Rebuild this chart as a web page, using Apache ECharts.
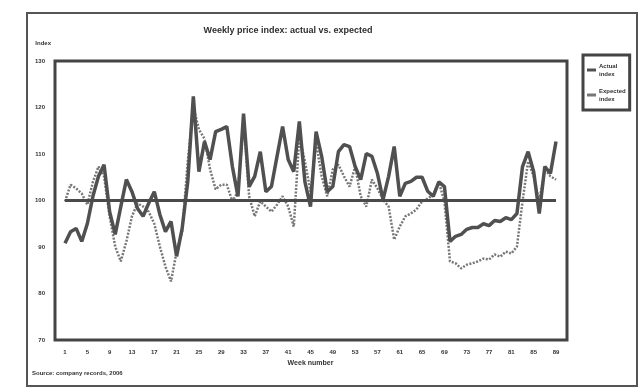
<!DOCTYPE html>
<html>
<head>
<meta charset="utf-8">
<script src="https://cdn.jsdelivr.net/npm/echarts@6/dist/echarts.min.js"></script>
<style>
  html, body { margin: 0; padding: 0; background: #fff; }
  #chart { width: 642px; height: 390px; }
</style>
</head>
<body>
<div id="chart"></div>
<script>
// weekly observations, every 4th week is labelled on the axis
const weeks = [
  1, 2, 3, 4, 5, 6, 7, 8, 9, 10, 11, 12, 13, 14, 15, 16, 17, 18, 19, 20,
  21, 22, 23, 24, 25, 26, 27, 28, 29, 30, 31, 32, 33, 34, 35, 36, 37, 38, 39, 40,
  41, 42, 43, 44, 45, 46, 47, 48, 49, 50, 51, 52, 53, 54, 55, 56, 57, 58, 59, 60,
  61, 62, 63, 64, 65, 66, 67, 68, 69, 70, 71, 72, 73, 74, 75, 76, 77, 78, 79, 80,
  81, 82, 83, 84, 85, 86, 87, 88, 89
]

// solid series
const actualIndex = [
  90.8, 93.3, 94.0, 91.2, 95.0, 100.9, 105.2, 107.7, 97.6, 92.7,
  98.7, 104.5, 101.9, 98.3, 96.6, 99.4, 101.9, 97.0, 93.3, 95.5,
  88.0, 94.0, 104.0, 122.4, 106.2, 112.7, 108.8, 114.8, 115.3, 115.9,
  107.3, 100.9, 118.7, 103.0, 105.2, 110.5, 101.9, 103.0, 109.5, 115.9,
  108.8, 106.2, 117.0, 104.0, 98.7, 114.8, 109.5, 101.9, 103.0, 110.5,
  112.0, 111.6, 107.3, 104.5, 110.1, 109.5, 105.8, 100.2, 105.2, 111.6,
  100.9, 103.7, 104.1, 105.0, 105.0, 102.0, 100.9, 104.0, 103.0, 91.2,
  92.3, 92.7, 93.8, 94.2, 94.2, 95.0, 94.6, 95.7, 95.5, 96.3,
  95.9, 97.2, 107.3, 110.5, 106.2, 97.2, 107.3, 105.8, 112.7
]

// dotted series
const expectedIndex = [
  99.8, 103.4, 102.6, 101.5, 99.1, 104.0, 107.3, 105.2, 96.6, 90.1,
  86.9, 91.2, 96.6, 99.4, 98.7, 97.6, 95.0, 90.1, 85.8, 82.6,
  89.0, 93.3, 108.4, 120.2, 115.3, 113.3, 106.7, 102.4, 103.4, 103.4,
  99.8, 101.9, 117.0, 100.9, 96.6, 99.8, 98.7, 97.6, 99.1, 100.9,
  98.7, 94.4, 113.8, 108.4, 101.9, 112.5, 105.2, 100.9, 106.7, 107.7,
  105.2, 103.0, 107.3, 100.9, 98.7, 104.5, 102.6, 100.2, 98.7, 91.6,
  94.4, 96.6, 97.2, 98.1, 99.8, 100.4, 101.3, 104.0, 99.8, 86.9,
  86.5, 85.4, 86.2, 86.5, 86.9, 87.5, 87.3, 88.4, 87.9, 89.0,
  88.6, 90.1, 99.8, 108.4, 105.2, 99.8, 106.7, 105.2, 104.5
]

const baseValue = 100
const yTicks = { min: 70, max: 130, interval: 10 }

const chart = echarts.init(document.getElementById('chart'))

const font = 'Liberation Sans'

chart.setOption({
  backgroundColor: '#ffffff',
  animation: false,
  textStyle: { fontFamily: font },
  title: {
    text: 'Weekly price index: actual vs. expected',
    left: 283,
    top: 21,
    textAlign: 'center',
    textStyle: { fontSize: 9, fontWeight: 'bold', color: '#2e2e2e' },
  },
  legend: {
    orient: 'vertical',
    left: 583,
    top: 55,
    padding: [7, 4, 7, 4],
    itemGap: 9,
    itemWidth: 9,
    itemHeight: 3,
    icon: 'rect',
    borderColor: '#444',
    borderWidth: 3,
    textStyle: { fontSize: 6, color: '#333', fontWeight: 'bold', lineHeight: 8, padding: [0, 0, 0, -2] },
    data: ['Actual\nindex', 'Expected\nindex'],
  },
  grid: { left: 65, right: 86, top: 61, bottom: 50 },
  xAxis: {
    type: 'category',
    data: weeks,
    boundaryGap: false,
    name: 'Week number',
    nameLocation: 'middle',
    nameGap: 20,
    nameTextStyle: { fontSize: 7, fontWeight: 'bold', color: '#333' },
    axisLine: { show: false },
    axisTick: { show: false },
    axisLabel: { interval: 3, fontSize: 6, fontWeight: 'bold', color: '#333', margin: 9 },
    splitLine: { show: false },
  },
  yAxis: {
    type: 'value',
    min: yTicks.min,
    max: yTicks.max,
    interval: yTicks.interval,
    name: 'Index',
    nameLocation: 'end',
    nameGap: 15,
    nameTextStyle: { fontSize: 6, fontWeight: 'bold', color: '#333', align: 'right', padding: [0, 14, 0, 0] },
    axisLine: { show: false },
    axisTick: { show: false },
    axisLabel: { fontSize: 6, fontWeight: 'bold', color: '#333', margin: 20 },
    splitLine: { show: false },
  },
  graphic: [
    // outer page frame
    {
      type: 'rect',
      shape: { x: 27, y: 13, width: 610, height: 373 },
      style: { fill: 'none', stroke: '#555', lineWidth: 2 },
      silent: true,
    },
    // plot frame
    {
      type: 'rect',
      shape: { x: 55, y: 61, width: 512, height: 279 },
      style: { fill: 'none', stroke: '#444', lineWidth: 3 },
      silent: true,
    },
    {
      type: 'text',
      left: 32,
      top: 370,
      style: { text: 'Source: company records, 2006', fontSize: 6, fontWeight: 'bold', fill: '#333', fontFamily: font },
      silent: true,
    },
  ],
  series: [
    {
      name: 'Actual\nindex',
      type: 'line',
      data: actualIndex,
      symbol: 'none',
      z: 3,
      lineStyle: { color: '#505050', width: 3.5 },
      itemStyle: { color: '#505050' },
      markLine: {
        silent: true,
        symbol: 'none',
        label: { show: false },
        lineStyle: { color: '#4a4a4a', width: 3, type: 'solid' },
        data: [[
          { xAxis: 0, yAxis: baseValue },
          { xAxis: weeks.length - 1, yAxis: baseValue },
        ]],
      },
    },
    {
      name: 'Expected\nindex',
      type: 'line',
      data: expectedIndex,
      symbol: 'none',
      z: 2,
      lineStyle: { color: '#777', width: 2.5, type: [2, 1.5] },
      itemStyle: { color: '#777' },
    },
  ],
})
</script>
</body>
</html>
